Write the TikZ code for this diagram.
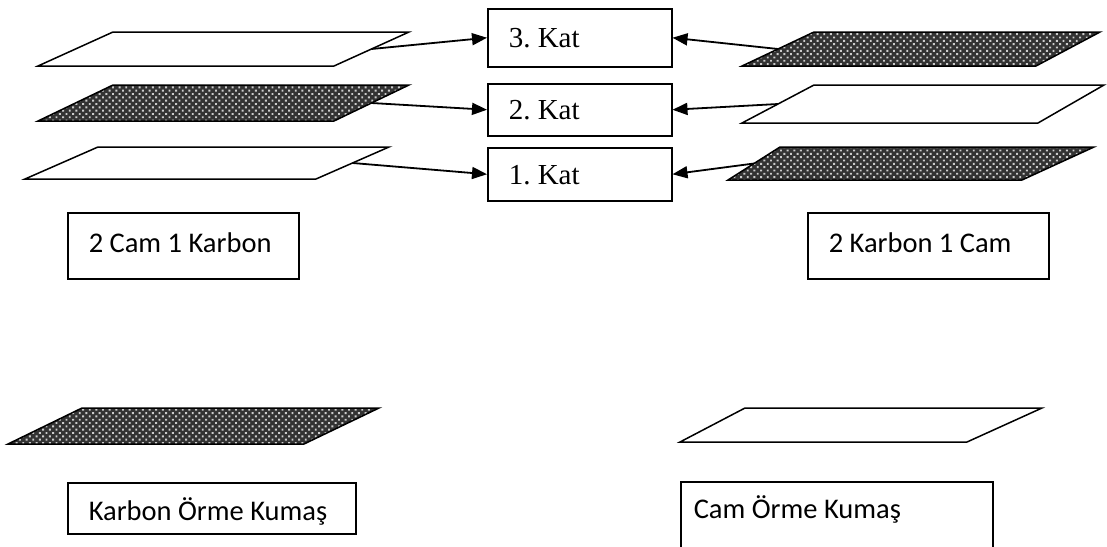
\documentclass[tikz,border=0pt]{standalone}
\usepackage{fontspec}
\setmainfont{Liberation Serif}
\newfontfamily\labelsans{Carlito}
\usetikzlibrary{arrows.meta,patterns.meta,calc}
\frenchspacing

% one fabric layer drawn as a parallelogram:
% #1 name, #2 style, #3 top-left x, #4 top-right x, #5 top y,
% #6 bottom-left x, #7 bottom-right x, #8 bottom y
\newcommand\plylayer[8]{%
  \coordinate (#1-tl) at (#3,#5);
  \coordinate (#1-tr) at (#4,#5);
  \coordinate (#1-bl) at (#6,#8);
  \coordinate (#1-br) at (#7,#8);
  \draw[#2] (#1-tl) -- (#1-tr) -- (#1-br) -- (#1-bl) -- cycle;
  \coordinate (#1-r) at ($(#1-tr)!0.5!(#1-br)$);
  \coordinate (#1-l) at ($(#1-tl)!0.5!(#1-bl)$);
}
% fixed-width, left-aligned box content that never wraps
\newcommand\boxtext[2]{\makebox[#1][l]{#2}}

\begin{document}
\begin{tikzpicture}[x=1pt,y=-1pt,
  edge/.style={line width=1.5pt, line join=miter},
  glass/.style={edge, fill=white},
  carbon/.style={edge, preaction={fill=black!80},
    pattern={Dots[distance=4.7pt,radius=1.35pt,angle=45]},
    pattern color=black!20},
  framebox/.style={draw, line width=1.5pt, anchor=north west,
    inner ysep=0pt, inner xsep=21pt},
  katbox/.style={framebox, font=\fontsize{29}{34}\selectfont},
  namebox/.style={framebox, font=\labelsans\fontsize{28.5}{34}\selectfont},
  link/.style={line width=1.8pt, -{Triangle[length=15pt,width=12pt]}},
]
\clip (0,0) rectangle (1107,546);
\fill[white] (0,0) rectangle (1107,546);

% left stack: glass / carbon / glass
\plylayer{L3}{glass}{113}{409}{32}{38}{334}{66}
\plylayer{L2}{carbon}{113}{409}{85}{38}{334}{121}
\plylayer{L1}{glass}{98}{389}{147}{25}{316}{179}

% right stack: carbon / glass / carbon
\plylayer{R3}{carbon}{814}{1100}{32}{742}{1036}{66}
\plylayer{R2}{glass}{814}{1104}{85}{742}{1038}{123}
\plylayer{R1}{carbon}{780}{1094}{147}{728}{1022}{180}

% single knitted fabrics
\plylayer{KC}{carbon}{82}{379}{408}{8}{304}{444}
\plylayer{KG}{glass}{745}{1042}{408}{680}{967}{442}

% ply order boxes
\node[katbox, text height=39pt, text depth=19pt] (k3) at (487,8)
  {\boxtext{142pt}{3. Kat}};
\node[katbox, text height=36pt, text depth=16pt] (k2) at (487,83)
  {\boxtext{142pt}{2. Kat}};
\node[katbox, text height=37pt, text depth=16pt] (k1) at (487,147)
  {\boxtext{142pt}{1. Kat}};

% captions
\node[namebox, text height=40pt, text depth=26pt] (mixA) at (67,212)
  {\boxtext{189pt}{2 Cam 1 Karbon}};
\node[namebox, text height=40pt, text depth=26pt] (mixB) at (807,212)
  {\boxtext{199pt}{2 Karbon 1 Cam}};
\node[namebox, text height=38pt, text depth=13pt] (knitC) at (67,482)
  {\boxtext{246pt}{Karbon Örme Kumaş}};
\node[namebox, inner xsep=13pt, text height=37pt, text depth=67pt] (knitG) at (680,481)
  {\boxtext{286pt}{Cam Örme Kumaş}};

% layers to ply positions
\draw[link] (L3-r) -- (k3.west);
\draw[link] (L2-r) -- (k2.west);
\draw[link] (L1-r) -- (k1.west);
\draw[link] (R3-l) -- (k3.east);
\draw[link] (R2-l) -- (k2.east);
\draw[link] (R1-l) -- (k1.east);
\end{tikzpicture}
\end{document}
